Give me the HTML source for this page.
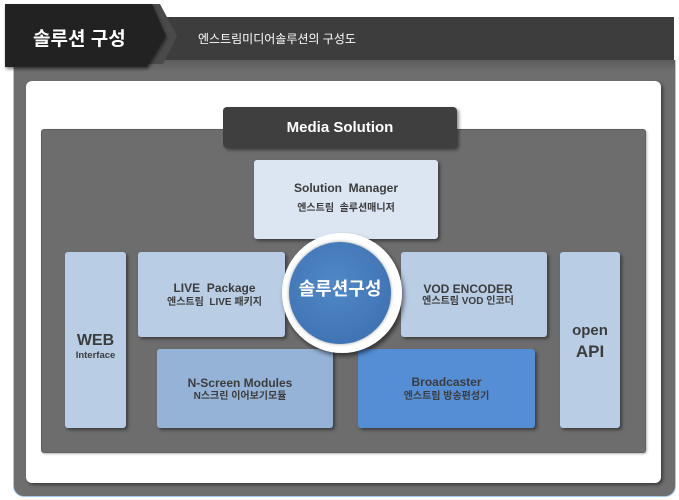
<!DOCTYPE html>
<html><head><meta charset="utf-8">
<style>
html,body{margin:0;padding:0;background:#fff;}
body{width:679px;height:500px;position:relative;overflow:hidden;font-family:"Liberation Sans","Noto Sans CJK KR",sans-serif;}
.a{position:absolute;}
.frame{left:13px;top:60px;width:661px;height:436px;background:linear-gradient(#5c5c5c 0px,#6e6e6e 12px,#6e6e6e 100%);border:1px solid #a9c6ee;border-top:none;border-radius:0 0 11px 11px;}
.white{left:26px;top:81px;width:635px;height:402px;background:#fff;border-radius:6px;box-shadow:2px 2px 3px rgba(0,0,0,.45);}
.gray{left:41px;top:129px;width:603px;height:322px;background:#6d6d6d;border:1px solid #5e5e5e;border-radius:3px;box-shadow:1px 1px 2px rgba(0,0,0,.3);}
.mtab{left:223px;top:107px;width:234px;height:41px;background:#3f3f3f;border-radius:4px;box-shadow:2px 2px 3px rgba(0,0,0,.45);color:#fff;font-weight:bold;font-size:15px;line-height:41px;text-align:center;}
.box{border-radius:3px;box-shadow:2px 2px 3px rgba(0,0,0,.45);color:#3c3c3c;font-weight:bold;text-align:center;}
.t1{position:absolute;left:0;right:0;font-size:12px;line-height:14px;}
.t2{position:absolute;left:0;right:0;font-size:10px;line-height:12px;}
</style></head><body>

<div class="a frame"></div>

<svg class="a" style="left:0;top:0" width="679" height="80">
  <defs>
    <filter id="sh" x="-10%" y="-10%" width="130%" height="140%"><feDropShadow dx="1" dy="2" stdDeviation="1.5" flood-opacity="0.5"/></filter>
  </defs>
  <rect x="145" y="17" width="529" height="43" fill="#3d3d3d"/>
  <polygon points="148,4 160,4 177,36 163,64 146,64" fill="#4a4a4a"/>
  <polygon points="5,4 152,4 166,36 147,67 5,67" fill="#232323" filter="url(#sh)"/>
  <text x="33" y="45" fill="#fff" font-family="Liberation Sans, Noto Sans CJK KR, sans-serif" font-weight="bold" font-size="19">솔루션 구성</text>
  <text x="198" y="43" fill="#fff" font-family="Liberation Sans, Noto Sans CJK KR, sans-serif" font-size="12">엔스트림미디어솔루션의 구성도</text>
</svg>

<div class="a white"></div>
<div class="a gray"></div>
<div class="a mtab">Media Solution</div>

<div class="a box" style="left:254px;top:160px;width:184px;height:79px;background:#dce6f2;">
  <div class="t1" style="top:21px;">Solution&nbsp; Manager</div>
  <div class="t2" style="top:43px;">엔스트림&nbsp; 솔루션매니저</div>
</div>

<div class="a box" style="left:65px;top:252px;width:61px;height:176px;background:#b9cde5;">
  <div class="t1" style="top:80px;font-size:16px;line-height:18px;">WEB</div>
  <div class="t2" style="top:98px;font-size:9.5px;">Interface</div>
</div>

<div class="a box" style="left:138px;top:252px;width:147px;height:85px;background:#b9cde5;">
  <div class="t1" style="top:29px;padding-left:6px;">LIVE&nbsp; Package</div>
  <div class="t2" style="top:45px;padding-left:6px;">엔스트림&nbsp; LIVE 패키지</div>
</div>

<div class="a box" style="left:401px;top:252px;width:146px;height:85px;background:#b9cde5;">
  <div class="t1" style="top:30px;right:12px;">VOD ENCODER</div>
  <div class="t2" style="top:44px;right:12px;">엔스트림 VOD 인코더</div>
</div>

<div class="a box" style="left:560px;top:252px;width:60px;height:176px;background:#b9cde5;">
  <div class="t1" style="top:70px;font-size:15px;line-height:17px;">open</div>
  <div class="t1" style="top:90px;font-size:17px;line-height:19px;">API</div>
</div>

<div class="a box" style="left:157px;top:349px;width:176px;height:79px;background:#95b3d7;">
  <div class="t1" style="top:27px;right:10px;">N-Screen Modules</div>
  <div class="t2" style="top:42px;right:10px;">N스크린 이어보기모듈</div>
</div>

<div class="a box" style="left:358px;top:349px;width:177px;height:79px;background:#558ed5;">
  <div class="t1" style="top:26px;">Broadcaster</div>
  <div class="t2" style="top:42px;">엔스트림 방송편성기</div>
</div>

<svg class="a" style="left:270px;top:222px" width="150" height="150">
  <defs>
    <filter id="cs" x="-20%" y="-20%" width="150%" height="150%"><feDropShadow dx="2" dy="3" stdDeviation="2.5" flood-opacity="0.55"/></filter>
    <radialGradient id="bg" cx="45%" cy="40%" r="65%">
      <stop offset="0" stop-color="#5088c8"/>
      <stop offset="1" stop-color="#3f72b2"/>
    </radialGradient>
    <filter id="is" x="-20%" y="-20%" width="140%" height="140%"><feDropShadow dx="0" dy="0" stdDeviation="1.5" flood-opacity="0.4"/></filter>
  </defs>
  <circle cx="72" cy="71" r="60" fill="#ffffff" filter="url(#cs)"/>
  <circle cx="70" cy="71" r="51" fill="url(#bg)" filter="url(#is)"/>
  <text x="70" y="73" text-anchor="middle" fill="#fff" font-family="Liberation Sans, Noto Sans CJK KR, sans-serif" font-weight="bold" font-size="18">솔루션구성</text>
</svg>

</body></html>
